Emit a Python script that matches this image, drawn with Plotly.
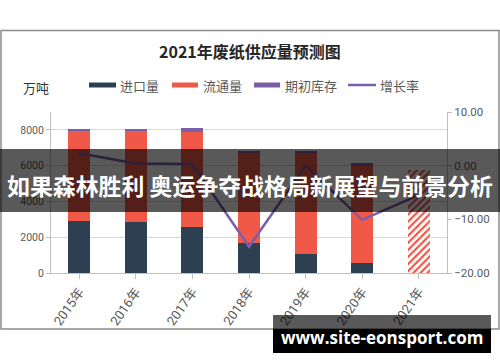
import plotly.graph_objects as go

# ---------------- data ----------------
years = ["2015年", "2016年", "2017年", "2018年", "2019年", "2020年", "2021年"]
import_vol = [2900, 2850, 2560, 1700, 1050, 570, None]      # 进口量
circulation = [5050, 5100, 5340, 4990, 5650, 5430, None]    # 流通量
inventory = [110, 100, 190, 145, 130, 130, None]            # 期初库存
forecast_2021 = [None, None, None, None, None, None, 5750]  # 2021 预测
growth = [2.3, 0.4, 0.3, -15.1, 0.0, -10.1, -5.5]           # 增长率 (%)

left_ticks = [0, 2000, 4000, 6000, 8000]
right_ticks = [-20, -10, 0, 10]

# ---------------- style ----------------
NAVY = "#2d4052"
RED = "#f05848"
PURPLE = "#7b5ea8"
LINE = "#7a5fa8"
GRAY_TXT = "#595959"
CJK = "Noto Sans CJK SC"
NUM = "Roboto, Noto Sans CJK SC"

W, H = 500, 362
L, R, T, B = 51, 53, 112, 89
PW, PH = W - L - R, H - T - B


def px(x):
    return (x - L) / PW


def py(y):
    return (H - B - y) / PH


fig = go.Figure()
fig.add_trace(go.Bar(x=years, y=import_vol, name="进口量", marker=dict(color=NAVY, line=dict(width=0))))
fig.add_trace(go.Bar(x=years, y=circulation, name="流通量", marker=dict(color=RED, line=dict(width=0))))
fig.add_trace(go.Bar(x=years, y=inventory, name="期初库存", marker=dict(color=PURPLE, line=dict(width=0))))
fig.add_trace(go.Bar(x=years, y=forecast_2021, name="2021预测", showlegend=False,
                     marker=dict(color="white", line=dict(width=0),
                                 pattern=dict(shape="/", fgcolor=RED, bgcolor="white",
                                              size=5, solidity=0.45, fillmode="replace"))))
fig.add_trace(go.Scatter(x=years, y=growth, name="增长率", mode="lines", yaxis="y2",
                         line=dict(color=LINE, width=2.5)))

shapes = []
# chart border
shapes.append(dict(type="rect", xref="paper", yref="paper", x0=px(1), x1=px(499), y0=py(329), y1=py(30.5),
                   line=dict(color="#8c8c8c", width=1.5), fillcolor="rgba(0,0,0,0)", layer="below"))
# legend swatches
for x0, x1, c in [(89, 116, NAVY), (172, 198, RED), (254, 280, PURPLE)]:
    shapes.append(dict(type="rect", xref="paper", yref="paper", x0=px(x0), x1=px(x1), y0=py(87.5), y1=py(82.5),
                       line=dict(width=0), fillcolor=c))
shapes.append(dict(type="line", xref="paper", yref="paper", x0=px(348), x1=px(376), y0=py(85), y1=py(85),
                   line=dict(color=LINE, width=2.5)))
# banner overlay
shapes.append(dict(type="rect", xref="paper", yref="paper", x0=px(0), x1=px(500), y0=py(212), y1=py(149),
                   line=dict(width=0), fillcolor="rgba(0,0,0,0.65)", layer="above"))
# watermark boxes
shapes.append(dict(type="rect", xref="paper", yref="paper", x0=px(273), x1=px(491), y0=py(329), y1=py(315),
                   line=dict(width=0), fillcolor="rgba(0,0,0,0.65)", layer="above"))
shapes.append(dict(type="rect", xref="paper", yref="paper", x0=px(273), x1=px(491), y0=py(353), y1=py(329),
                   line=dict(width=0), fillcolor="black", layer="above"))

annotations = []
annotations.append(dict(text="<b>2021年废纸供应量预测图</b>", xref="paper", yref="paper", x=px(250), y=py(51),
                        showarrow=False, xanchor="center", yanchor="middle",
                        font=dict(family=CJK, size=16, color="#262626")))
annotations.append(dict(text="万吨", xref="paper", yref="paper", x=px(21), y=py(88), showarrow=False,
                        xanchor="left", yanchor="middle", font=dict(family=CJK, size=13, color="#333333")))
for x, t in [(118, "进口量"), (201, "流通量"), (283, "期初库存"), (378, "增长率")]:
    annotations.append(dict(text=t, xref="paper", yref="paper", x=px(x), y=py(85), showarrow=False,
                            xanchor="left", yanchor="middle", font=dict(family=CJK, size=13, color=GRAY_TXT)))
annotations.append(dict(text="<b>如果森林胜利 奥运争夺战格局新展望与前景分析</b>", xref="paper", yref="paper",
                        x=px(250), y=py(184.5), showarrow=False, xanchor="center", yanchor="middle",
                        font=dict(family=CJK, size=22.9, color="white")))
annotations.append(dict(text="<b>www.site-eonsport.com</b>", xref="paper", yref="paper",
                        x=px(381.5), y=py(337), showarrow=False, xanchor="center", yanchor="middle",
                        font=dict(family="Open Sans", size=17, color="white")))

fig.update_layout(
    width=W, height=H,
    margin=dict(l=L, r=R, t=T, b=B, pad=0, autoexpand=False),
    paper_bgcolor="white", plot_bgcolor="white",
    barmode="stack", bargap=0.61,
    showlegend=False,
    shapes=shapes, annotations=annotations,
    xaxis=dict(type="category", range=[-0.5, 6.5], showline=True, linecolor="#bfbfbf", linewidth=1,
               ticks="outside", ticklen=5, tickcolor="#bfbfbf", tickangle=-55, automargin=False,
               tickfont=dict(family=NUM, size=13, color=GRAY_TXT), showgrid=False),
    yaxis=dict(range=[0, 9000], tickvals=left_ticks, showgrid=True, gridcolor="#d9d9d9", gridwidth=1,
               showline=True, linecolor="#bfbfbf", ticks="outside", ticklen=4, tickcolor="#bfbfbf",
               zeroline=False, automargin=False, tickfont=dict(family=NUM, size=10.5, color=GRAY_TXT)),
    yaxis2=dict(overlaying="y", side="right", range=[-20, 10], tickvals=right_ticks,
                tickformat=".2f", ticksuffix="%", showgrid=False, zeroline=False, automargin=False,
                showline=True, linecolor="#bfbfbf", ticks="outside", ticklen=4, tickcolor="#bfbfbf",
                tickfont=dict(family=NUM, size=11.5, color=GRAY_TXT)),
)

fig.write_html("out.html", config={"displayModeBar": False},
               post_script="document.body.style.margin='0';")
